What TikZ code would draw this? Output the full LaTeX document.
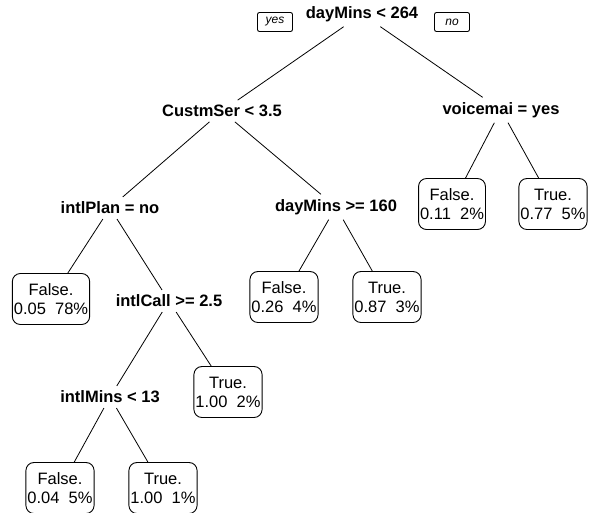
\documentclass[tikz,border=0pt]{standalone}
\usepackage{fontspec}
\setmainfont{Liberation Sans}
\usetikzlibrary{arrows.meta}

\begin{document}
\begin{tikzpicture}[
        x=1pt, y=-1pt,
        split/.style={font=\fontsize{16.5}{19}\selectfont\bfseries,
                      inner sep=1pt, outer sep=4pt},
        leaf/.style={draw, rounded corners=8pt, align=center, line width=0.9pt,
                     font=\fontsize{16.5}{19}\selectfont,
                     inner xsep=1.5pt, minimum height=51pt},
        tag/.style={draw, rounded corners=2pt, line width=0.9pt,
                    font=\fontsize{12}{14}\selectfont\itshape,
                    minimum width=35pt, minimum height=19pt, inner sep=1pt},
        edge/.style={line width=0.8pt}
      ]
        \useasboundingbox (0,0) rectangle (589,512);

        % splits
        \node[split] (nRoot)  at (362,14)  {dayMins < 264};
        \node[split] (nCustm) at (222,111) {CustmSer < 3.5};
        \node[split] (nVoice) at (501,110) {voicemai = yes};
        \node[split] (nPlan)  at (110,208) {intlPlan = no};
        \node[split] (nDay)   at (336,207) {dayMins >= 160};
        \node[split] (nCall)  at (169,301) {intlCall >= 2.5};
        \node[split] (nMins)  at (110,397) {intlMins < 13};

        \node[tag] (tYes) at (275,22) {yes};
        \node[tag] (tNo)  at (452,22) {no};

        % leaves
        \node[leaf] (lPlan)   at (51,299)  {False.\\0.05~~78\%};
        \node[leaf] (lDayF)   at (284,297) {False.\\0.26~~4\%};
        \node[leaf] (lDayT)   at (387,297) {True.\\0.87~~3\%};
        \node[leaf] (lVoiceF) at (452,204) {False.\\0.11~~2\%};
        \node[leaf] (lVoiceT) at (553,204) {True.\\0.77~~5\%};
        \node[leaf] (lCall)   at (228,392) {True.\\1.00~~2\%};
        \node[leaf] (lMinsF)  at (60,488)  {False.\\0.04~~5\%};
        \node[leaf] (lMinsT)  at (163,488) {True.\\1.00~~1\%};

        \draw[edge] (nRoot) -- (nCustm);
        \draw[edge] (nRoot) -- (nVoice);
        \draw[edge] (nCustm) -- (nPlan);
        \draw[edge] (nCustm) -- (nDay);
        \draw[edge] (nVoice) -- (lVoiceF);
        \draw[edge] (nVoice) -- (lVoiceT);
        \draw[edge] (nPlan) -- (lPlan);
        \draw[edge] (nPlan) -- (nCall);
        \draw[edge] (nDay) -- (lDayF);
        \draw[edge] (nDay) -- (lDayT);
        \draw[edge] (nCall) -- (nMins);
        \draw[edge] (nCall) -- (lCall);
        \draw[edge] (nMins) -- (lMinsF);
        \draw[edge] (nMins) -- (lMinsT);
      \end{tikzpicture}
\end{document}
